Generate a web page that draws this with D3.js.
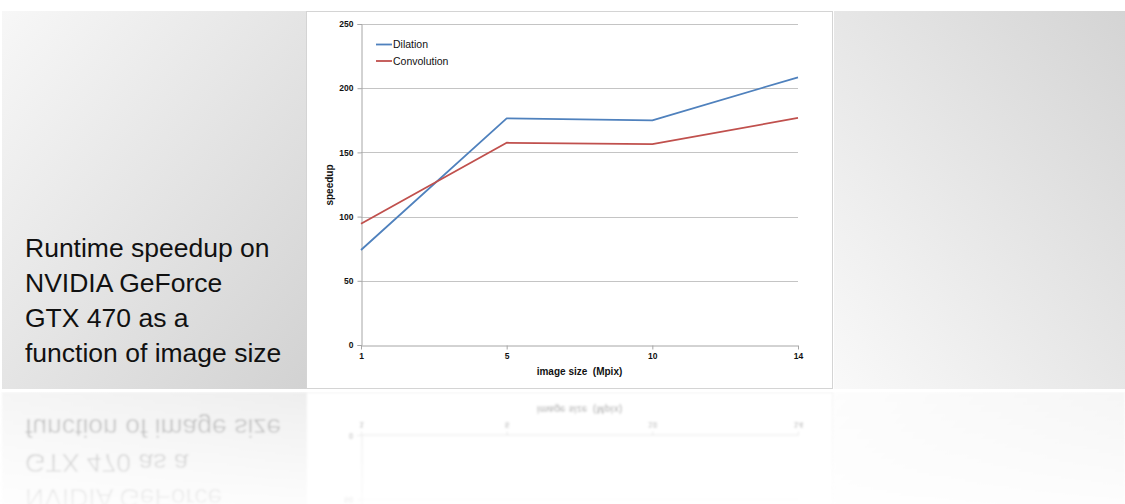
<!DOCTYPE html>
<html>
<head>
<meta charset="utf-8">
<script src="https://cdn.jsdelivr.net/npm/d3@7"></script>
<style>
  html, body { margin: 0; padding: 0; background: #ffffff; }
  svg { display: block; }
  .pre { white-space: pre; }
</style>
</head>
<body>
<svg id="slide" width="1125" height="504"></svg>
<script>
// Speedup measurements by image size
const imageSizes = ["1", "5", "10", "14"];
const dilation = [74, 176.5, 175, 208.5];
const convolution = [94.5, 157.5, 156.5, 176.8];
const yTicks = [0, 50, 100, 150, 200, 250];
const seriesNames = ["Dilation", "Convolution"];
const captionLines = ["Runtime speedup on", "NVIDIA GeForce", "GTX 470 as a", "function of image size"];

const W = 1125, H = 504;
const svg = d3.select("#slide");
const defs = svg.append("defs");

// Panel gradients
const gl = defs.append("linearGradient").attr("id", "gLeft")
  .attr("x1", "0").attr("y1", "0").attr("x2", "1").attr("y2", "1");
gl.append("stop").attr("offset", "0").attr("stop-color", "#f7f7f7");
gl.append("stop").attr("offset", "1").attr("stop-color", "#d2d2d2");

const gr = defs.append("linearGradient").attr("id", "gRight")
  .attr("x1", "0").attr("y1", "1").attr("x2", "1").attr("y2", "0");
gr.append("stop").attr("offset", "0").attr("stop-color", "#f9f9f9");
gr.append("stop").attr("offset", "1").attr("stop-color", "#d4d4d4");

// Fading mask for the mirrored copy
const fade = defs.append("linearGradient").attr("id", "fade")
  .attr("gradientUnits", "userSpaceOnUse")
  .attr("x1", 0).attr("y1", 392).attr("x2", 0).attr("y2", 504);
fade.append("stop").attr("offset", "0").attr("stop-color", "#fff").attr("stop-opacity", 0.38);
fade.append("stop").attr("offset", "1").attr("stop-color", "#fff").attr("stop-opacity", 0.07);
const mask = defs.append("mask").attr("id", "fadeMask").attr("maskUnits", "userSpaceOnUse")
  .attr("x", 0).attr("y", 0).attr("width", W).attr("height", H);
mask.append("rect").attr("x", 0).attr("y", 392).attr("width", W).attr("height", H - 392)
  .attr("fill", "url(#fade)");

defs.append("filter").attr("id", "soft")
  .append("feGaussianBlur").attr("stdDeviation", 0.8);

const scene = defs.append("g").attr("id", "scene");

// Left caption panel
scene.append("rect").attr("x", 2).attr("y", 11).attr("width", 304).attr("height", 378)
  .attr("fill", "url(#gLeft)");
// Right filler panel
scene.append("rect").attr("x", 834).attr("y", 11).attr("width", W - 834).attr("height", 378)
  .attr("fill", "url(#gRight)");
// Chart card
scene.append("rect").attr("x", 306.5).attr("y", 11.5).attr("width", 526).attr("height", 377)
  .attr("fill", "#ffffff").attr("stroke", "#d4d4d4").attr("stroke-width", 1);

// Caption
const cap = scene.append("text")
  .attr("font-family", "'Liberation Sans', Arial, Helvetica, sans-serif")
  .attr("font-size", 26.5).attr("fill", "#111");
captionLines.forEach((t, i) => {
  cap.append("tspan").attr("x", 25).attr("y", 257 + i * 35).text(t);
});

// Chart
const x = d3.scalePoint().domain(imageSizes).range([361, 798]);
const y = d3.scaleLinear().domain([0, 250]).range([345, 24]);
const font = "'Liberation Sans', Arial, sans-serif";

const chart = scene.append("g");

// Horizontal gridlines
chart.append("g").selectAll("line").data(yTicks.filter(d => d > 0)).join("line")
  .attr("x1", 361).attr("x2", 798)
  .attr("y1", d => Math.round(y(d)) + 0.5).attr("y2", d => Math.round(y(d)) + 0.5)
  .attr("stroke", "#c4c4c4").attr("stroke-width", 1);

// Y axis
const yAxis = chart.append("g").attr("transform", "translate(361.5,0)")
  .call(d3.axisLeft(y).tickValues(yTicks).tickSize(4).tickPadding(4));
yAxis.select(".domain").attr("stroke", "#a6a6a6");
yAxis.selectAll(".tick line").attr("stroke", "#a6a6a6");
yAxis.selectAll(".tick text").attr("font-family", font).attr("font-size", 8.5)
  .attr("font-weight", "bold").attr("fill", "#111");

// X axis
const xAxis = chart.append("g").attr("transform", "translate(0,345.5)")
  .call(d3.axisBottom(x).tickSize(4).tickPadding(3));
xAxis.select(".domain").attr("stroke", "#a6a6a6")
  .attr("d", "M361,0.5H798");
xAxis.selectAll(".tick line").attr("stroke", "#a6a6a6");
xAxis.selectAll(".tick text").attr("font-family", font).attr("font-size", 8.5)
  .attr("font-weight", "bold").attr("fill", "#111");

// Axis titles
chart.append("text").attr("class", "pre").attr("x", 579.5).attr("y", 375).attr("text-anchor", "middle")
  .attr("font-family", font).attr("font-size", 10).attr("font-weight", "bold").attr("fill", "#111")
  .text("image size  (Mpix)");
chart.append("text").attr("transform", "translate(333,185) rotate(-90)").attr("text-anchor", "middle")
  .attr("font-family", font).attr("font-size", 10).attr("font-weight", "bold").attr("fill", "#111")
  .text("speedup");

// Series lines
const colors = ["#4f81bd", "#c0504d"];
const line = d3.line().x((d, i) => x(imageSizes[i])).y(d => y(d));
[dilation, convolution].forEach((vals, k) => {
  chart.append("path").datum(vals).attr("d", line)
    .attr("fill", "none").attr("stroke", colors[k]).attr("stroke-width", 1.8)
    .attr("stroke-linejoin", "round");
});

// Legend
seriesNames.forEach((name, k) => {
  const ly = 44.5 + k * 16.5;
  chart.append("line").attr("x1", 376).attr("x2", 392).attr("y1", ly).attr("y2", ly)
    .attr("stroke", colors[k]).attr("stroke-width", 1.8);
  chart.append("text").attr("x", 393).attr("y", ly + 3.8)
    .attr("font-family", font).attr("font-size", 10.5).attr("fill", "#111").text(name);
});

// Draw the scene and its mirrored, fading copy
svg.append("use").attr("href", "#scene");
svg.append("g").attr("mask", "url(#fadeMask)")
  .append("use").attr("href", "#scene")
  .attr("filter", "url(#soft)")
  .attr("transform", "translate(0,781) scale(1,-1)");
</script>
</body>
</html>
